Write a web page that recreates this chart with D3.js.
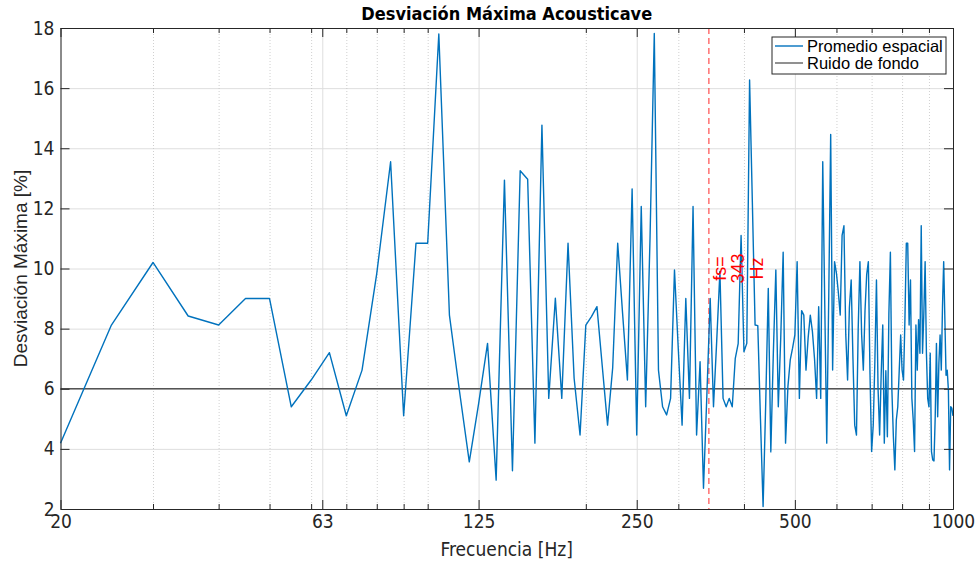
<!DOCTYPE html>
<html>
<head>
<meta charset="utf-8">
<script src="https://cdn.jsdelivr.net/npm/d3@7"></script>
<style>
  body { margin: 0; background: #fff; }
  .narrow { font-family: "Liberation Sans Narrow", "DejaVu Sans Condensed", "Liberation Sans", sans-serif; }
</style>
</head>
<body>
<script>
// frecuencias de medicion [Hz]
var frecuencias = [
  20, 25, 30, 35, 40, 45, 50, 55, 60, 65, 70, 75, 80, 85, 90, 95, 100, 105, 110, 115,
  120, 125, 130, 135, 140, 145, 150, 155, 160, 165, 170, 175, 180, 185, 190, 195, 200, 205, 210, 215,
  220, 225, 230, 235, 240, 245, 250, 255, 260, 265, 270, 275, 280, 285, 290, 295, 300, 305, 310, 315,
  320, 325, 330, 335, 340, 345, 350, 355, 360, 365, 370, 375, 380, 385, 390, 395, 400, 405, 410, 415,
  420, 425, 430, 435, 440, 445, 450, 455, 460, 465, 470, 475, 480, 485, 490, 495, 500, 505, 510, 515,
  520, 525, 530, 535, 540, 545, 550, 555, 560, 565, 570, 575, 580, 585, 590, 595, 600, 605, 610, 615,
  620, 625, 630, 635, 640, 645, 650, 655, 660, 665, 670, 675, 680, 685, 690, 695, 700, 705, 710, 715,
  720, 725, 730, 735, 740, 745, 750, 755, 760, 765, 770, 775, 780, 785, 790, 795, 800, 805, 810, 815,
  820, 825, 830, 835, 840, 845, 850, 855, 860, 865, 870, 875, 880, 885, 890, 895, 900, 905, 910, 915,
  920, 925, 930, 935, 940, 945, 950, 955, 960, 965, 970, 975, 980, 985, 990, 995, 1000
];

// promedio espacial de la desviacion maxima [%]
var promedio = [
  4.19, 8.12, 10.2, 8.42, 8.12, 9.0, 9.0, 5.4, 6.29, 7.2, 5.1, 6.62, 9.84, 13.55, 5.1, 10.84, 10.84, 17.8, 8.45, 5.9,
  3.57, 5.5, 7.51, 2.96, 12.94, 3.27, 13.25, 12.97, 4.19, 14.77, 5.68, 9.01, 5.68, 10.84, 6.35, 4.46, 8.12, 8.4, 8.73, 6.73,
  4.79, 6.7, 10.84, 8.5, 6.29, 12.65, 4.46, 12.06, 5.4, 11.0, 17.82, 6.62, 5.4, 5.13, 5.68, 9.95, 7.3, 4.79, 9.0, 5.68,
  12.06, 4.46, 6.9, 2.69, 5.8, 9.0, 5.4, 7.6, 9.9, 5.68, 5.4, 5.68, 5.4, 7.0, 7.5, 11.1, 7.23, 7.51, 16.27, 12.2,
  8.12, 8.1, 5.0, 2.08, 5.5, 9.34, 3.9, 7.2, 9.95, 5.4, 7.7, 10.54, 4.19, 6.07, 6.96, 7.35, 7.79, 10.23, 5.68, 8.6,
  8.45, 6.62, 7.7, 8.45, 7.9, 7.0, 5.68, 8.73, 5.68, 13.55, 8.8, 4.19, 9.0, 14.46, 6.62, 10.23, 9.84, 9.2, 8.45, 11.1,
  11.42, 7.8, 6.29, 8.7, 9.62, 7.0, 4.79, 4.46, 8.0, 10.23, 7.8, 6.62, 8.6, 9.8, 10.23, 6.5, 3.91, 4.8, 6.9, 9.62,
  6.0, 4.46, 6.5, 8.12, 4.19, 6.6, 4.4, 8.5, 10.54, 5.96, 4.4, 3.3, 4.96, 5.4, 6.6, 7.79, 6.62, 6.29, 8.3, 10.84,
  10.84, 8.12, 9.62, 5.68, 4.96, 3.91, 8.12, 6.62, 8.3, 7.18, 11.42, 7.18, 8.51, 10.23, 7.2, 5.68, 5.4, 7.18, 3.91, 3.63,
  3.6, 5.07, 7.51, 5.07, 6.85, 7.79, 6.62, 8.73, 10.23, 8.3, 6.45, 6.62, 5.96, 3.3, 5.4, 5.35, 5.1
];

var ruidoFondo = 6;   // nivel del ruido de fondo [%]
var fs = 343;         // frecuencia de Schroeder [Hz]

var xTicks = [20, 63, 125, 250, 500, 1000];
var xMinor = [30, 40, 50, 60, 70, 80, 90, 100, 200, 300, 400, 600, 700, 800, 900];
var yTicks = [2, 4, 6, 8, 10, 12, 14, 16, 18];

var leyenda = ["Promedio espacial", "Ruido de fondo"];

// tamano del lienzo y del area de trazado
var W = 975, H = 565;
var mIzq = 60.5, mDer = 953, mSup = 28, mInf = 509;

var azul = "#0072BD";
var gris = "#555555";
var ejes = "#262626";

var svg = d3.select("body").append("svg")
    .attr("width", W)
    .attr("height", H)
    .style("background-color", "white");

var x = d3.scaleLog().domain([20, 1000]).range([mIzq, mDer]);
var y = d3.scaleLinear().domain([2, 18]).range([mInf, mSup]);

// rejilla horizontal
svg.append("g")
    .attr("transform", "translate(" + mIzq + ",0)")
    .call(d3.axisLeft(y).tickValues(yTicks).tickSize(-(mDer - mIzq)).tickFormat(""))
    .call(function (g) { g.select(".domain").remove(); })
    .selectAll("line")
    .style("stroke", "#dedede")
    .style("stroke-width", 1);

// rejilla vertical principal
svg.append("g")
    .attr("transform", "translate(0," + mInf + ")")
    .call(d3.axisBottom(x).tickValues(xTicks).tickSize(-(mInf - mSup)).tickFormat(""))
    .call(function (g) { g.select(".domain").remove(); })
    .selectAll("line")
    .style("stroke", "#dedede")
    .style("stroke-width", 1);

// rejilla vertical menor (punteada)
svg.append("g")
    .attr("transform", "translate(0," + mInf + ")")
    .call(d3.axisBottom(x).tickValues(xMinor).tickSize(-(mInf - mSup)).tickFormat(""))
    .call(function (g) { g.select(".domain").remove(); })
    .selectAll("line")
    .style("stroke", "#c4c4c4")
    .style("stroke-width", 0.8)
    .style("stroke-dasharray", "1,2");

// ruido de fondo
svg.append("line")
    .attr("x1", x(20))
    .attr("x2", x(1000))
    .attr("y1", y(ruidoFondo))
    .attr("y2", y(ruidoFondo))
    .style("stroke", gris)
    .style("stroke-width", 1.3);

// linea de frecuencia de Schroeder
svg.append("line")
    .attr("x1", x(fs))
    .attr("x2", x(fs))
    .attr("y1", y(18))
    .attr("y2", y(2))
    .style("stroke", "#ff4d4d")
    .style("stroke-width", 1.2)
    .style("stroke-dasharray", "6,4");

// promedio espacial
var linea = d3.line()
    .x(function (d, i) { return x(frecuencias[i]); })
    .y(function (d) { return y(d); });

svg.append("path")
    .datum(promedio)
    .attr("d", linea)
    .style("fill", "none")
    .style("stroke", azul)
    .style("stroke-width", 1.4)
    .style("stroke-linejoin", "round");

// etiqueta fs
var etiqueta = ["fs=", String(fs), "Hz"];
svg.append("g")
    .selectAll("text")
    .data(etiqueta)
    .join("text")
    .attr("transform", function (d, i) {
        return "translate(" + (x(fs) + 17 + i * 18.5) + "," + y(10) + ") rotate(-90)";
    })
    .attr("text-anchor", "middle")
    .style("font-family", "'Liberation Sans', Arial, sans-serif")
    .style("font-size", "18px")
    .style("fill", "#ff0000")
    .text(function (d) { return d; });

// ejes (caja completa, marcas hacia dentro)
function estiloEje(g) {
    g.selectAll(".domain, .tick line")
        .style("stroke", ejes)
        .style("stroke-width", 1);
    g.selectAll(".tick text")
        .style("font-size", "19px")
        .style("fill", ejes);
}

svg.append("g")
    .attr("class", "narrow")
    .attr("transform", "translate(0," + mInf + ")")
    .call(d3.axisBottom(x).tickValues(xTicks).tickSizeInner(-9).tickSizeOuter(0).tickPadding(6).tickFormat(d3.format("d")))
    .call(estiloEje);

svg.append("g")
    .attr("transform", "translate(0," + mInf + ")")
    .call(d3.axisBottom(x).tickValues(xMinor).tickSizeInner(-5).tickSizeOuter(0).tickFormat(""))
    .call(estiloEje);

svg.append("g")
    .attr("transform", "translate(0," + mSup + ")")
    .call(d3.axisTop(x).tickValues(xTicks).tickSizeInner(-9).tickSizeOuter(0).tickFormat(""))
    .call(estiloEje);

svg.append("g")
    .attr("transform", "translate(0," + mSup + ")")
    .call(d3.axisTop(x).tickValues(xMinor).tickSizeInner(-5).tickSizeOuter(0).tickFormat(""))
    .call(estiloEje);

svg.append("g")
    .attr("class", "narrow")
    .attr("transform", "translate(" + mIzq + ",0)")
    .call(d3.axisLeft(y).tickValues(yTicks).tickSizeInner(-9).tickSizeOuter(0).tickPadding(6))
    .call(estiloEje);

svg.append("g")
    .attr("transform", "translate(" + mDer + ",0)")
    .call(d3.axisRight(y).tickValues(yTicks).tickSizeInner(-9).tickSizeOuter(0).tickFormat(""))
    .call(estiloEje);

// titulo
svg.append("text")
    .attr("class", "narrow")
    .attr("x", (mIzq + mDer) / 2)
    .attr("y", 20)
    .attr("text-anchor", "middle")
    .style("font-size", "18px")
    .style("font-weight", "bold")
    .style("fill", "#000")
    .text("Desviación Máxima Acousticave");

// etiqueta eje x
svg.append("text")
    .attr("class", "narrow")
    .attr("x", (mIzq + mDer) / 2)
    .attr("y", 556)
    .attr("text-anchor", "middle")
    .style("font-size", "19px")
    .style("fill", ejes)
    .text("Frecuencia [Hz]");

// etiqueta eje y
svg.append("text")
    .attr("transform", "translate(27," + ((mSup + mInf) / 2) + ") rotate(-90)")
    .attr("text-anchor", "middle")
    .style("font-family", "'Liberation Sans', Arial, sans-serif")
    .style("font-size", "19px")
    .style("fill", ejes)
    .text("Desviación Máxima [%]");

// leyenda
var ley = svg.append("g");

ley.append("rect")
    .attr("x", 772)
    .attr("y", 37)
    .attr("width", 174)
    .attr("height", 37)
    .style("fill", "white")
    .style("stroke", ejes)
    .style("stroke-width", 1);

var filas = ley.selectAll("g.fila")
    .data(leyenda)
    .join("g")
    .attr("class", "fila")
    .attr("transform", function (d, i) { return "translate(0," + (46 + i * 17) + ")"; });

filas.append("line")
    .attr("x1", 775)
    .attr("x2", 803)
    .style("stroke", function (d, i) { return i === 0 ? azul : gris; })
    .style("stroke-width", function (d, i) { return i === 0 ? 1.4 : 1.3; });

filas.append("text")
    .attr("x", 807)
    .attr("dy", "0.35em")
    .style("font-family", "'Liberation Sans', Arial, sans-serif")
    .style("font-size", "16.5px")
    .style("fill", "#000")
    .text(function (d) { return d; });
</script>
</body>
</html>
